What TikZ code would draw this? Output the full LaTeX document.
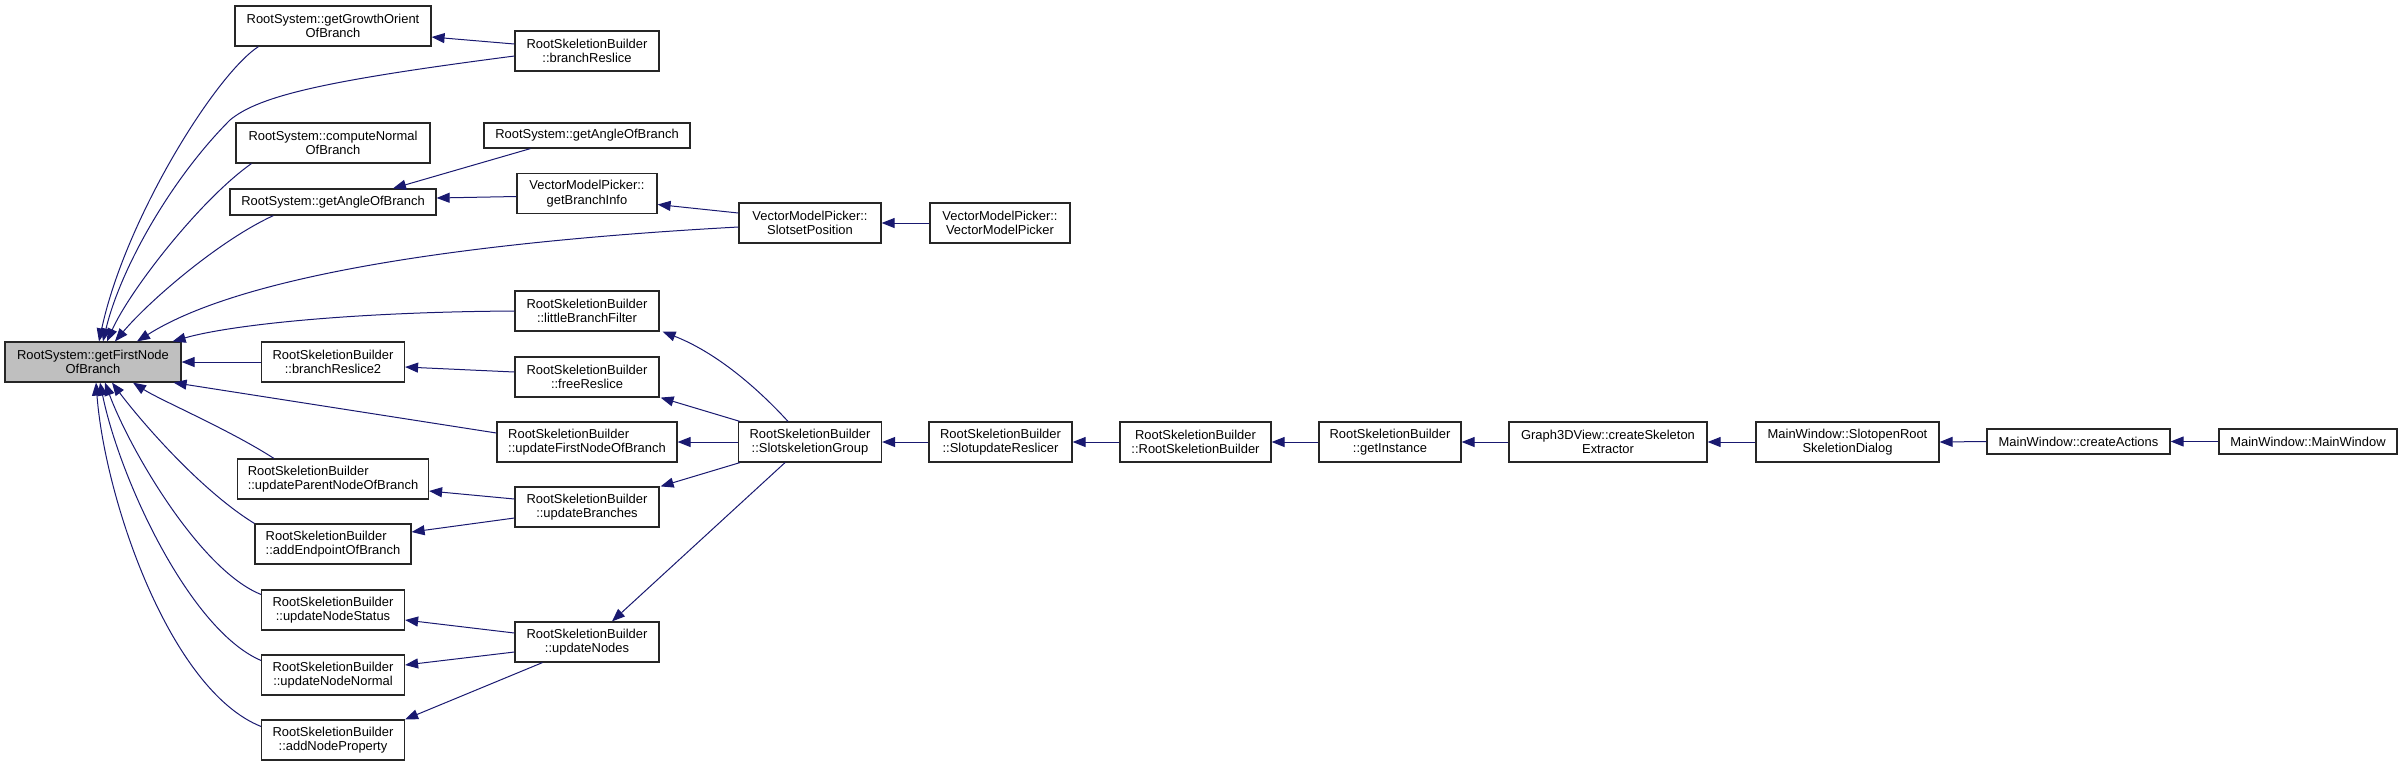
\documentclass[tikz,border=0pt]{standalone}
\usepackage{fontspec}
\setmainfont{Liberation Sans}
\usetikzlibrary{arrows.meta,calc}
\definecolor{edgeblue}{RGB}{25,25,112}
\definecolor{nodegray}{RGB}{191,191,191}
\begin{document}
\begin{tikzpicture}[x=0.5pt,y=-0.5pt,
  box/.style={draw=black!85, line width=0.6pt, fill=white, inner sep=0pt, align=center,
    minimum height=20pt, font=\fontsize{6.47}{7.2}\selectfont},
  lbox/.style={box, align=left},
  edge/.style={draw=edgeblue, line width=0.5pt, -{Triangle[length=6.5pt,width=5pt]}}]
\useasboundingbox (0,0) rectangle (2403,767);
% column 0
\node[box, minimum width=88pt, fill=nodegray] (A) at (93,362) {RootSystem::getFirstNode\\OfBranch};
% column 1
\node[box, minimum width=98pt] (B) at (333,26) {RootSystem::getGrowthOrient\\OfBranch};
\node[box, minimum width=97pt] (D) at (333,143) {RootSystem::computeNormal\\OfBranch};
\node[box, minimum width=103pt, minimum height=13pt] (F) at (333,202) {RootSystem::getAngleOfBranch};
\node[box, minimum width=71.5pt] (K) at (333,362) {RootSkeletionBuilder\\::branchReslice2};
\node[lbox, minimum width=95.5pt] (N) at (333,479) {RootSkeletionBuilder\\::updateParentNodeOfBranch};
\node[lbox, minimum width=78pt] (P) at (333,544) {RootSkeletionBuilder\\::addEndpointOfBranch};
\node[box, minimum width=71.5pt] (Q) at (333,610) {RootSkeletionBuilder\\::updateNodeStatus};
\node[box, minimum width=71.5pt] (S) at (333,675) {RootSkeletionBuilder\\::updateNodeNormal};
\node[box, minimum width=71.5pt] (T) at (333,740) {RootSkeletionBuilder\\::addNodeProperty};
% column 2
\node[box, minimum width=72pt] (C) at (587,51) {RootSkeletionBuilder\\::branchReslice};
\node[box, minimum width=103pt, minimum height=12.5pt] (E) at (587,135.5) {RootSystem::getAngleOfBranch};
\node[box, minimum width=70pt] (G) at (587,193.5) {VectorModelPicker::\\getBranchInfo};
\node[box, minimum width=72pt] (J) at (587,311) {RootSkeletionBuilder\\::littleBranchFilter};
\node[box, minimum width=72pt] (L) at (587,377) {RootSkeletionBuilder\\::freeReslice};
\node[lbox, minimum width=90pt] (M) at (587,442) {RootSkeletionBuilder\\::updateFirstNodeOfBranch};
\node[box, minimum width=72pt] (O) at (587,507) {RootSkeletionBuilder\\::updateBranches};
\node[box, minimum width=72pt] (R) at (587,642) {RootSkeletionBuilder\\::updateNodes};
% column 3
\node[box, minimum width=71pt] (H) at (810,223) {VectorModelPicker::\\SlotsetPosition};
\node[box, minimum width=71.5pt] (U) at (810,442) {RootSkeletionBuilder\\::SlotskeletionGroup};
% column 4 onwards
\node[box, minimum width=70pt] (I) at (1000,223) {VectorModelPicker::\\VectorModelPicker};
\node[box, minimum width=71.5pt] (V) at (1000.5,442) {RootSkeletionBuilder\\::SlotupdateReslicer};
\node[box, minimum width=75.5pt] (W) at (1195.5,442) {RootSkeletionBuilder\\::RootSkeletionBuilder};
\node[box, minimum width=71pt] (X) at (1390,442) {RootSkeletionBuilder\\::getInstance};
\node[box, minimum width=99pt] (Y) at (1608,442) {Graph3DView::createSkeleton\\Extractor};
\node[box, minimum width=91.5pt] (Z) at (1847.5,442) {MainWindow::SlotopenRoot\\SkeletionDialog};
\node[box, minimum width=91.5pt, minimum height=12.5pt] (AA) at (2078.5,441.5) {MainWindow::createActions};
\node[box, minimum width=89pt, minimum height=12.5pt] (AB) at (2308,441.5) {MainWindow::MainWindow};
% edges into A (top)
\draw[edge] ($(B.south west)+(24,0)$) .. controls (215,75) and (125,220) .. ($(A.north)+(6,0)$);
\draw[edge] ($(C.west)+(0,5)$) .. controls (330,80) and (260,95) .. (230,120) .. controls (170,180) and (120,270) .. ($(A.north)+(10,0)$);
\draw[edge] ($(D.south west)+(16,0)$) .. controls (200,200) and (130,290) .. ($(A.north)+(14,0)$);
\draw[edge] ($(F.south west)+(44,0)$) .. controls (220,240) and (150,300) .. ($(A.north)+(22,0)$);
\draw[edge] ($(H.west)+(0,4)$) .. controls (500,240) and (250,270) .. ($(A.north)+(44,0)$);
\draw[edge] (J.west) .. controls (350,312) and (230,325) .. ($(A.north east)+(-9,0)$);
\draw[edge] (K.west) -- (A.east);
% edges into A (bottom)
\draw[edge] ($(M.west)+(0,-9)$) -- ($(A.south east)+(-8,0)$);
\draw[edge] ($(N.north west)+(37,0)$) .. controls (230,430) and (160,400) .. ($(A.south)+(40,0)$);
\draw[edge] (P.north west) .. controls (200,490) and (140,420) .. ($(A.south)+(19,0)$);
\draw[edge] ($(Q.north west)+(0,5)$) .. controls (200,570) and (130,450) .. ($(A.south)+(12,0)$);
\draw[edge] ($(S.north west)+(0,6)$) .. controls (190,630) and (120,480) .. ($(A.south)+(7,0)$);
\draw[edge] ($(T.north west)+(0,7)$) .. controls (170,690) and (105,500) .. ($(A.south)+(3,0)$);
% other edges
\draw[edge] ($(C.west)+(0,-7)$) -- ($(B.east)+(0,11)$);
\draw[edge] ($(E.south west)+(47,0)$) -- ($(F.north)+(60,0)$);
\draw[edge] ($(G.west)+(0,3)$) -- ($(F.east)+(0,-4)$);
\draw[edge] ($(H.west)+(0,-10)$) -- ($(G.east)+(0,11)$);
\draw[edge] (I.west) -- (H.east);
\draw[edge] ($(L.west)+(0,-5)$) -- ($(K.east)+(0,5)$);
\draw[edge] ($(O.west)+(0,-8)$) -- ($(N.east)+(0,12)$);
\draw[edge] ($(O.west)+(0,11)$) -- ($(P.east)+(0,-12)$);
\draw[edge] ($(R.west)+(0,-9)$) -- ($(Q.east)+(0,10)$);
\draw[edge] ($(R.west)+(0,10)$) -- ($(S.east)+(0,-10)$);
\draw[edge] ($(R.south west)+(28,0)$) -- (T.north east);
\draw[edge] ($(U.north)+(-22,0)$) .. controls (750,380) and (710,350) .. ($(J.south east)+(3,0)$);
\draw[edge] ($(U.north west)+(2,0)$) -- ($(L.south east)+(1,0)$);
\draw[edge] (U.west) -- (M.east);
\draw[edge] ($(U.south west)+(2,0)$) -- ($(O.north east)+(1,0)$);
\draw[edge] ($(U.south)+(-25,0)$) -- ($(R.north)+(25,0)$);
% chain
\draw[edge] (V.west) -- (U.east);
\draw[edge] (W.west) -- (V.east);
\draw[edge] (X.west) -- (W.east);
\draw[edge] (Y.west) -- (X.east);
\draw[edge] (Z.west) -- (Y.east);
\draw[edge] (AA.west) -- (Z.east);
\draw[edge] (AB.west) -- (AA.east);
\end{tikzpicture}
\end{document}
